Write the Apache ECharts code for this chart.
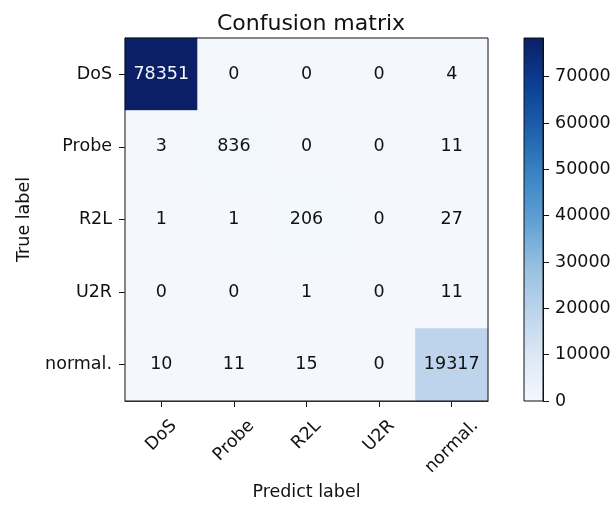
<!DOCTYPE html>
<html>
<head>
<meta charset="utf-8">
<script src="https://cdn.jsdelivr.net/npm/echarts@6/dist/echarts.min.js"></script>
<style>
html,body{margin:0;padding:0;background:#fff;}
#chart{width:616px;height:507px;}
</style>
</head>
<body>
<div id="chart"></div>
<script>
// ---- data ----
const predictLabels = ['DoS', 'Probe', 'R2L', 'U2R', 'normal.'];
const trueLabels = ['DoS', 'Probe', 'R2L', 'U2R', 'normal.'];
const rowDoS    = [78351, 0, 0, 0, 4];
const rowProbe  = [3, 836, 0, 0, 11];
const rowR2L    = [1, 1, 206, 0, 27];
const rowU2R    = [0, 0, 1, 0, 11];
const rowNormal = [10, 11, 15, 0, 19317];
const colorbarTicks = [0, 10000, 20000, 30000, 40000, 50000, 60000, 70000];
const blues = ['#f4f8fd', '#dbe8f6', '#bcd3ec', '#94bfe0', '#5f9fd3', '#3a84c4', '#1d60ad', '#0c3e93', '#0a1f66'];

const rows = [rowDoS, rowProbe, rowR2L, rowU2R, rowNormal];
let vmax = 0;
rows.forEach(r => r.forEach(v => { if (v > vmax) vmax = v; }));
const thresh = vmax / 2;
const heatData = [];
rows.forEach((r, yi) => r.forEach((v, xi) => {
  heatData.push({ value: [xi, yi, v], label: { color: v > thresh ? '#f4f6fb' : '#111111' } });
}));

const FONT = 'DejaVu Sans';
const FS = 17.5;

// rotated x labels centred under their ticks (matplotlib style)
const measureCtx = document.createElement('canvas').getContext('2d');
measureCtx.font = FS + 'px "DejaVu Sans"';
const xLabelRich = {};
predictLabels.forEach((lab, i) => {
  const w = measureCtx.measureText(lab).width;
  const d = 15 + 0.354 * (w + 20);
  const t = d * 1.414;
  xLabelRich['l' + i] = { padding: [t, t, 0, 0], fontFamily: FONT, fontSize: FS, color: '#111' };
});

const chart = echarts.init(document.getElementById('chart'), null, { renderer: 'canvas' });
chart.setOption({
  backgroundColor: '#ffffff',
  animation: false,
  textStyle: { fontFamily: FONT },
  title: {
    text: 'Confusion matrix',
    left: 306, top: 8, textAlign: 'center',
    textStyle: { fontFamily: FONT, fontSize: 22, fontWeight: 'normal', color: '#111' }
  },
  grid: [
    { left: 125, top: 38, width: 363, height: 363, show: true, borderColor: '#111', borderWidth: 1, backgroundColor: 'transparent', z: 5 },
    { left: 524, top: 38, width: 19, height: 363, show: true, borderColor: '#111', borderWidth: 1, backgroundColor: 'transparent', z: 5 }
  ],
  xAxis: [
    {
      type: 'category', gridIndex: 0, data: predictLabels,
      name: 'Predict label', nameLocation: 'middle', nameGap: 82,
      nameTextStyle: { fontFamily: FONT, fontSize: FS, color: '#111' },
      axisLine: { show: true, lineStyle: { color: '#111', width: 1 } },
      axisTick: { show: true, alignWithLabel: true, length: 6, lineStyle: { color: '#111' } },
      axisLabel: {
        rotate: 45, align: 'center', verticalAlign: 'middle', margin: 0, interval: 0,
        fontFamily: FONT, fontSize: FS, color: '#111',
        formatter: (val, idx) => '{l' + idx + '|' + val + '}',
        rich: xLabelRich
      },
      splitLine: { show: false }, splitArea: { show: false }
    },
    {
      type: 'category', gridIndex: 1, data: ['cb'], show: false
    }
  ],
  yAxis: [
    {
      type: 'category', gridIndex: 0, data: trueLabels, inverse: true,
      name: 'True label', nameLocation: 'middle', nameGap: 92,
      nameTextStyle: { fontFamily: FONT, fontSize: FS, color: '#111' },
      axisLine: { show: true, lineStyle: { color: '#111', width: 1 } },
      axisTick: { show: true, alignWithLabel: true, length: 6, lineStyle: { color: '#111' } },
      axisLabel: { fontFamily: FONT, fontSize: FS, color: '#111', margin: 13, interval: 0 },
      splitLine: { show: false }, splitArea: { show: false }
    },
    {
      type: 'value', gridIndex: 1, min: 0, max: vmax, position: 'right',
      axisLine: { show: true, lineStyle: { color: '#111', width: 1 } },
      axisTick: { show: true, length: 6, inside: false, customValues: colorbarTicks, lineStyle: { color: '#111' } },
      axisLabel: { fontFamily: FONT, fontSize: FS, color: '#111', margin: 12, customValues: colorbarTicks, formatter: v => String(v) },
      splitLine: { show: false }
    }
  ],
  visualMap: {
    show: false, type: 'continuous', min: 0, max: vmax, seriesIndex: 0, dimension: 2,
    inRange: { color: blues }
  },
  series: [
    {
      type: 'heatmap', xAxisIndex: 0, yAxisIndex: 0, data: heatData,
      label: { show: true, fontFamily: FONT, fontSize: FS },
      itemStyle: { borderWidth: 0 },
      emphasis: { disabled: true }
    },
    {
      type: 'bar', xAxisIndex: 1, yAxisIndex: 1, data: [vmax], barWidth: '100%',
      itemStyle: {
        color: new echarts.graphic.LinearGradient(0, 1, 0, 0,
          blues.map((c, i) => ({ offset: i / (blues.length - 1), color: c })))
      },
      silent: true
    }
  ]
});
</script>
</body>
</html>
